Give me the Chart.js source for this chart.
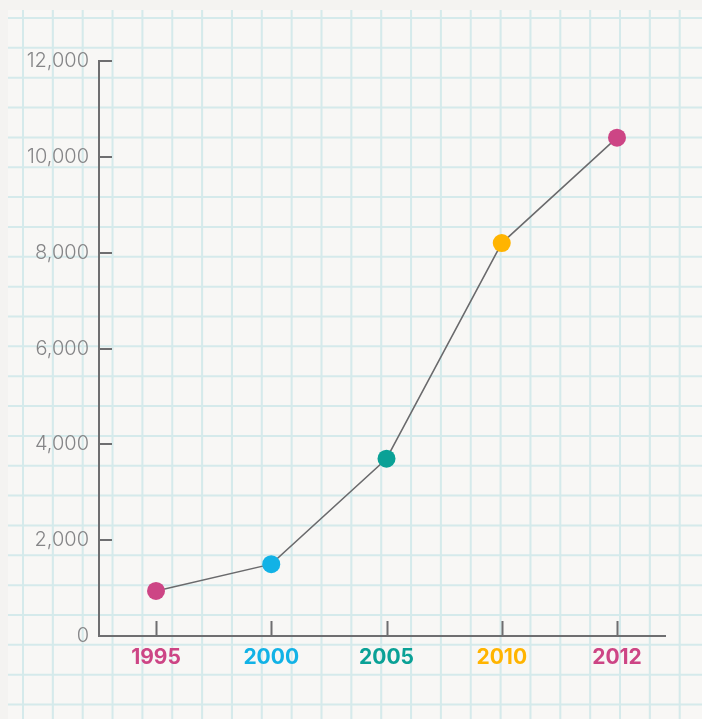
<!DOCTYPE html>
<html>
<head>
<meta charset="utf-8">
<script src="https://cdn.jsdelivr.net/npm/chart.js@4/dist/chart.umd.min.js"></script>
<style>
  html, body { margin: 0; padding: 0; background: #f4f3f1; width: 702px; height: 719px; overflow: hidden; }
  #paper { position: absolute; left: 0; top: 0; }
  #c { position: absolute; left: 0; top: 0; }
</style>
</head>
<body>
<canvas id="paper" width="702" height="719"></canvas>
<canvas id="c" width="702" height="719"></canvas>
<script>
const years = ['1995', '2000', '2005', '2010', '2012'];
const values = [940, 1500, 3700, 8200, 10400];
const pointColors = ['#cd4585', '#12b2e6', '#0aa196', '#ffb400', '#cd4585'];
const yTicks = [0, 2000, 4000, 6000, 8000, 10000, 12000];

const axisColor = '#6e6e70';

// graph-paper background (decoration only)
(function drawPaper() {
  const p = document.getElementById('paper').getContext('2d');
  p.fillStyle = '#f4f3f1';
  p.fillRect(0, 0, 702, 719);
  p.fillStyle = '#f8f7f5';
  p.fillRect(8, 10, 694, 709);
  p.strokeStyle = 'rgba(178,222,226,0.5)';
  p.lineWidth = 2;
  p.beginPath();
  for (let x = 23; x < 702; x += 29.85) {
    p.moveTo(x, 10); p.lineTo(x, 719);
  }
  for (let y = 18; y < 719; y += 29.85) {
    p.moveTo(8, y); p.lineTo(702, y);
  }
  p.stroke();
})();

const innerTicks = {
  id: 'innerTicks',
  afterDatasetsDraw(chart) {
    const ctx = chart.ctx;
    const xs = chart.scales.x, ys = chart.scales.y;
    ctx.save();
    ctx.strokeStyle = axisColor;
    ctx.lineWidth = 2;
    ctx.beginPath();
    yTicks.forEach(v => {
      if (v === 0) return;
      const py = Math.round(ys.getPixelForValue(v));
      ctx.moveTo(xs.left, py);
      ctx.lineTo(xs.left + 13, py);
    });
    years.forEach((y, i) => {
      const px = Math.round(xs.getPixelForValue(i)) + 0.5;
      ctx.moveTo(px, ys.bottom);
      ctx.lineTo(px, ys.bottom - 15);
    });
    ctx.stroke();
    ctx.restore();
  }
};

new Chart(document.getElementById('c'), {
  type: 'line',
  data: {
    datasets: [{
      data: values.map((v, i) => ({ x: i, y: v })),
      borderColor: '#6a6a6c',
      borderWidth: 1.5,
      pointRadius: 9,
      pointHoverRadius: 9,
      pointBorderWidth: 0,
      pointBackgroundColor: pointColors,
      pointBorderColor: pointColors,
      tension: 0,
      fill: false
    }]
  },
  options: {
    responsive: false,
    animation: false,
    events: [],
    layout: { padding: { top: 61, right: 37, left: 0, bottom: 0 } },
    plugins: { legend: { display: false }, tooltip: { enabled: false } },
    scales: {
      x: {
        type: 'linear',
        min: -0.4946,
        max: 4.4165,
        afterFit: s => { s.height = 83; },
        grid: { display: false, drawTicks: false },
        border: { display: true, color: axisColor, width: 2 },
        ticks: {
          stepSize: 1,
          includeBounds: false,
          autoSkip: false,
          maxRotation: 0,
          padding: 9,
          font: { family: 'Inter', size: 21, weight: '700' },
          color: c => pointColors[c.tick ? c.tick.value : c.index] || '#000',
          callback: v => years[v] !== undefined ? years[v] : ''
        }
      },
      y: {
        min: 0,
        max: 12000,
        afterFit: s => { s.width = 99; },
        afterBuildTicks: s => { s.ticks = yTicks.map(v => ({ value: v })); },
        grid: { display: false, drawTicks: false },
        border: { display: true, color: axisColor, width: 2 },
        ticks: {
          padding: 10,
          font: { family: 'Inter', size: 20, weight: '300' },
          color: '#858587',
          callback: v => v.toLocaleString('en-US')
        }
      }
    }
  },
  plugins: [innerTicks]
});
</script>
</body>
</html>
